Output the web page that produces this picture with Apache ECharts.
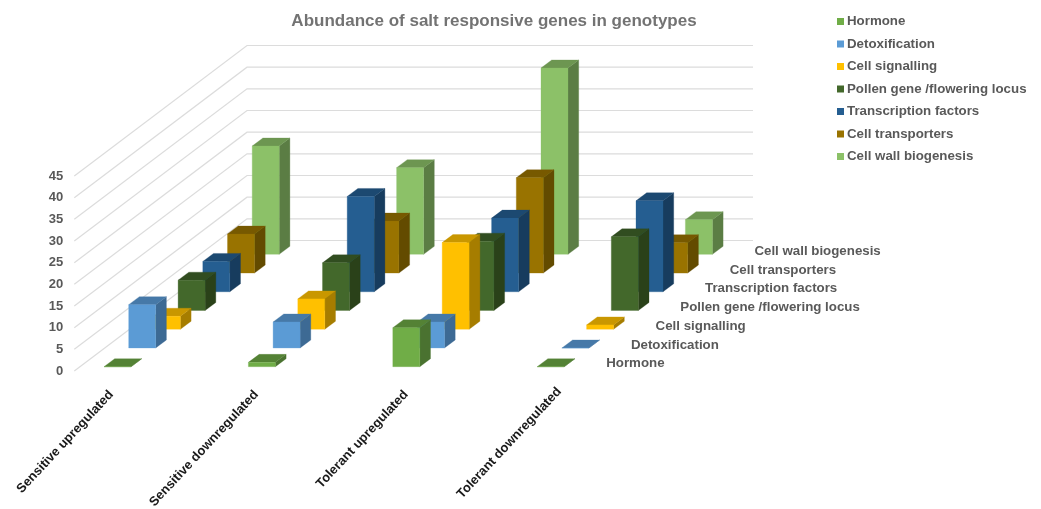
<!DOCTYPE html>
<html>
<head>
<meta charset="utf-8">
<style>html,body{margin:0;padding:0;background:#fff}#chart{width:1041px;height:509px}</style>
<script src="https://cdn.jsdelivr.net/npm/echarts@6/dist/echarts.min.js"></script>
</head>
<body>
<div id="chart"></div>
<script>
// Gene counts per genotype group, one array per functional class.
const categories = ['Sensitive upregulated', 'Sensitive downregulated', 'Tolerant upregulated', 'Tolerant downregulated'];
const seriesNames = ['Hormone', 'Detoxification', 'Cell signalling', 'Pollen gene /flowering locus', 'Transcription factors', 'Cell transporters', 'Cell wall biogenesis'];
const hormone = [0, 1, 9, 0];
const detoxification = [10, 6, 6, 0];
const cellSignalling = [3, 7, 20, 1];
const pollenGene = [7, 11, 16, 17];
const transcriptionFactors = [7, 22, 17, 21];
const cellTransporters = [9, 12, 22, 7];
const cellWall = [25, 20, 43, 8];
const valueTicks = [0, 5, 10, 15, 20, 25, 30, 35, 40, 45];

const seriesValues = [hormone, detoxification, cellSignalling, pollenGene, transcriptionFactors, cellTransporters, cellWall];
// Face colours of each class: front, top, side.
const faceColors = [
  ['#70AD47', '#548235', '#4A7230'],
  ['#5B9BD5', '#4679A8', '#3D6A94'],
  ['#FFC000', '#C99700', '#A67D00'],
  ['#43682B', '#314D20', '#2A4119'],
  ['#255E91', '#1C4971', '#173C5E'],
  ['#997300', '#775900', '#634B00'],
  ['#8CC168', '#6D9651', '#5B7D44']
];

// Oblique projection: every step back along the depth axis moves right and up.
const DEPTH_DX = 24.7, DEPTH_DY = -18.73;
const BAR_W = 27, BAR_DX = 10.7, BAR_DY = -8;
const FLOOR_LIFT = -4.3, CAT_STEP = 144.4;
const GRID_LEFT = 45.3, GRID_TOP = 176, GRID_H = 195;
const WALL_FRONT_X = 74.3, WALL_BACK_X = 247, WALL_RIGHT_X = 753, WALL_RISE = -130.5;
// Slanted group labels sit a little off their group centres.
const CAT_LABEL_DX = [-11, -10.4, -5, 3.8], CAT_LABEL_DY = [17, 17, 17, 14];
const CAT_LABEL_ANGLE = 47 * Math.PI / 180;

function barItem(depth) {
  return function (params, api) {
    const c = api.value(0), v = api.value(1);
    const top = api.coord([c, v]);
    const base = api.coord([c, 0]);
    const x0 = top[0] - BAR_W / 2 + DEPTH_DX * depth;
    const x1 = x0 + BAR_W;
    const yt = top[1] + FLOOR_LIFT + DEPTH_DY * depth;
    const yb = base[1] + FLOOR_LIFT + DEPTH_DY * depth;
    const cols = faceColors[depth];
    const poly = (points, fill) => ({ type: 'polygon', shape: { points }, style: { fill, stroke: fill, lineWidth: 0.3 } });
    return {
      type: 'group',
      children: [
        poly([[x1, yb], [x1 + BAR_DX, yb + BAR_DY], [x1 + BAR_DX, yt + BAR_DY], [x1, yt]], cols[2]),
        poly([[x0, yt], [x1, yt], [x1 + BAR_DX, yt + BAR_DY], [x0 + BAR_DX, yt + BAR_DY]], cols[1]),
        poly([[x0, yb], [x1, yb], [x1, yt], [x0, yt]], cols[0])
      ]
    };
  };
}

// Side and back wall gridlines, one polyline per value tick.
function wallItem(params, api) {
  const y = api.coord([0, api.value(0)])[1];
  return {
    type: 'polyline',
    shape: { points: [[WALL_FRONT_X, y], [WALL_BACK_X, y + WALL_RISE], [WALL_RIGHT_X, y + WALL_RISE]] },
    style: { fill: 'none', stroke: '#DCDCDC', lineWidth: 1.2 }
  };
}

// Class names along the depth axis, to the right of the last group.
function depthLabelItem(params, api) {
  const d = params.dataIndex;
  const p = api.coord([categories.length - 1, 0]);
  return {
    type: 'text',
    x: p[0] + 55.5 + DEPTH_DX * d,
    y: p[1] - 7.3 + DEPTH_DY * d,
    style: {
      text: seriesNames[d], fill: '#595959', align: 'left', verticalAlign: 'middle',
      font: 'bold 13.3px "Liberation Sans"'
    }
  };
}

// Group names under the floor, slanted upward to the right.
function categoryLabelItem(params, api) {
  const i = params.dataIndex;
  const p = api.coord([i, 0]);
  return {
    type: 'text',
    x: p[0] + CAT_LABEL_DX[i],
    y: p[1] + CAT_LABEL_DY[i],
    rotation: CAT_LABEL_ANGLE,
    style: {
      text: categories[i], fill: '#1A1A1A', align: 'right', verticalAlign: 'top',
      font: 'bold 13px "Liberation Sans"'
    }
  };
}

const barSeries = seriesNames.map((name, depth) => ({
  name,
  type: 'custom',
  z: 20 - depth,
  renderItem: barItem(depth),
  itemStyle: { color: faceColors[depth][0] },
  encode: { x: 0, y: 1 },
  data: seriesValues[depth].map((v, i) => [i, v])
}));

const chart = echarts.init(document.getElementById('chart'), null, { renderer: 'canvas' });
chart.setOption({
  animation: false,
  backgroundColor: '#fff',
  title: {
    text: 'Abundance of salt responsive genes in genotypes',
    left: 489, top: 8, textAlign: 'center',
    textStyle: { fontFamily: 'Liberation Sans', fontWeight: 'bold', fontSize: 17, color: '#737373' }
  },
  legend: {
    orient: 'vertical', left: 837, top: 14, padding: 0,
    data: seriesNames, icon: 'rect', itemWidth: 7, itemHeight: 7, itemGap: 7.5,
    selectedMode: false,
    textStyle: { fontFamily: 'Liberation Sans', fontWeight: 'bold', fontSize: 13.3, color: '#595959', lineHeight: 15, padding: [0, 0, 0, -2] }
  },
  grid: { left: GRID_LEFT, top: GRID_TOP, width: CAT_STEP * categories.length, height: GRID_H },
  xAxis: {
    type: 'category', data: categories,
    axisLine: { show: false }, axisTick: { show: false }, splitLine: { show: false },
    axisLabel: { show: false }
  },
  yAxis: {
    type: 'value', min: 0, max: 45, interval: 5, offset: -29,
    axisLine: { show: false }, axisTick: { show: false }, splitLine: { show: false },
    axisLabel: { margin: 11, color: '#595959', fontFamily: 'Liberation Sans', fontWeight: 'bold', fontSize: 13 }
  },
  series: [
    { type: 'custom', silent: true, z: 1, renderItem: wallItem, encode: { y: 0 }, data: valueTicks.map(v => [v]) }
  ].concat(barSeries, [
    { type: 'custom', silent: true, z: 30, renderItem: depthLabelItem, data: seriesNames.map((n, i) => [i]) },
    { type: 'custom', silent: true, z: 30, renderItem: categoryLabelItem, data: categories.map((n, i) => [i]) }
  ])
});
</script>
</body>
</html>
